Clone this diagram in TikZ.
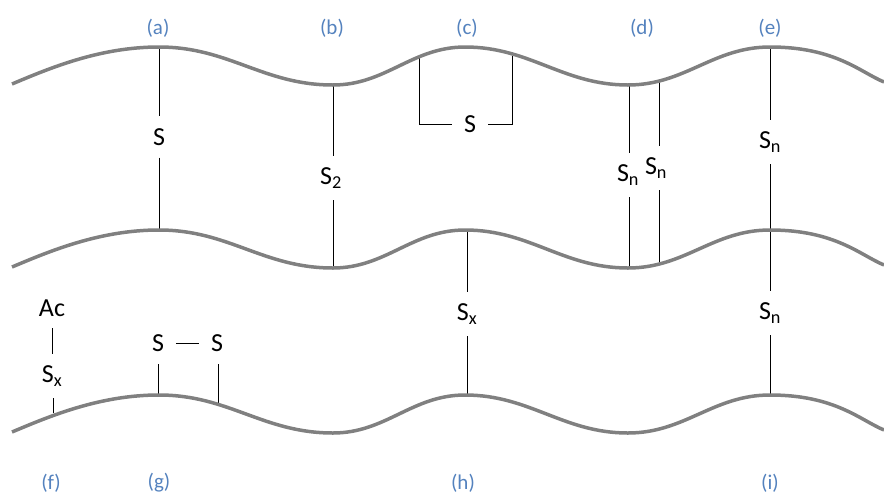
\documentclass[tikz,border=0pt]{standalone}
\usepackage{fontspec}
\setmainfont{Carlito}
\usepackage{xcolor}
\usetikzlibrary{positioning}
\definecolor{panelblue}{RGB}{84,130,190}
\definecolor{chaingray}{RGB}{128,128,128}

\begin{document}
\begin{tikzpicture}[x=1pt, y=-1pt,
  chain/.style={draw=chaingray, line width=3.5pt},
  link/.style={draw, line width=0.9pt},
  tag/.style={text=panelblue, font=\fontsize{21}{24}\selectfont},
  unit/.style={font=\fontsize{26}{30}\selectfont, inner sep=0pt, outer sep=12pt}
]
  \useasboundingbox (0,0) rectangle (884,496);
  % panel tags
  \node[tag] (ta) at (158,28) {(a)};
  \node[tag] (tb) at (332,28) {(b)};
  \node[tag] (tc) at (467,28) {(c)};
  \node[tag] (td) at (642,28) {(d)};
  \node[tag] (te) at (770,28) {(e)};
  \node[tag] (tf) at (51,483) {(f)};
  \node[tag] (tg) at (159,483) {(g)};
  \node[tag] (th) at (463,483) {(h)};
  \node[tag] (ti) at (770,483) {(i)};

  % points on the chains
  \coordinate (a1) at (159,47);  \coordinate (a2) at (159,230);
  \coordinate (b1) at (333,85);  \coordinate (b2) at (333,268);
  \coordinate (c1) at (419,57);  \coordinate (c2) at (512,56);
  \coordinate (d1) at (629,85);  \coordinate (d2) at (629,268);
  \coordinate (d3) at (659,80);  \coordinate (d4) at (659,263);
  \coordinate (e1) at (770,47);  \coordinate (i1) at (770,395);
  \coordinate (h1) at (467,230); \coordinate (h2) at (467,395);
  \coordinate (f1) at (53,413);
  \coordinate (g1) at (158,395); \coordinate (g2) at (218,404);

  % units
  \node[unit] (sa) at (159,137) {S};
  \node[unit] (sb) at (331,178) {S\textsubscript{2}};
  \node[unit] (sc) at (470,124) {S};
  \node[unit] (sd1) at (628,175) {S\textsubscript{n}};
  \node[unit] (sd2) at (656,168) {S\textsubscript{n}};
  \node[unit] (se) at (770,142) {S\textsubscript{n}};
  \node[unit] (si) at (770,313) {S\textsubscript{n}};
  \node[unit] (sh) at (467,314) {S\textsubscript{x}};
  \node[unit] (ac) at (52,308) {Ac};
  \node[unit] (sf) at (52,376) {S\textsubscript{x}};
  \node[unit] (sg1) at (158,343) {S};
  \node[unit] (sg2) at (217,343) {S};

  % links
  \draw[link] (a1) -- (a1 |- sa.north) (a1 |- sa.south) -- (a2);
  \draw[link] (b1) -- (b1 |- sb.north) (b1 |- sb.south) -- (b2);
  \draw[link] (c1) |- (sc);
  \draw[link] (c2) |- (sc);
  \draw[link] (d1) -- (d1 |- sd1.north) (d1 |- sd1.south) -- (d2);
  \draw[link] (d3) -- (d3 |- sd2.north) (d3 |- sd2.south) -- (d4);
  \draw[link] (e1) -- (e1 |- se.north) (e1 |- se.south) -- (e1 |- si.north)
              (e1 |- si.south) -- (i1);
  \draw[link] (h1) -- (h1 |- sh.north) (h1 |- sh.south) -- (h2);
  \draw[link] (ac) -- (sf);
  \draw[link] (f1) -- (f1 |- sf.south);
  \draw[link] (sg1) -- (sg2);
  \draw[link] (g1) -- (g1 |- sg1.south);
  \draw[link] (g2) -- (g2 |- sg2.south);

  % chains
  \foreach \dy in {0,183,348}
    \draw[chain, shift={(0,\dy)}] (12,84) .. controls (50,68) and (100,47) .. (159,47)
      .. controls (229,47) and (263,85) .. (333,85)
      .. controls (386,85) and (412,47) .. (465,47)
      .. controls (530,47) and (563,85) .. (628,85)
      .. controls (685,85) and (713,47) .. (770,47)
      .. controls (835,47) and (860,72) .. (884,82);
\end{tikzpicture}
\end{document}
